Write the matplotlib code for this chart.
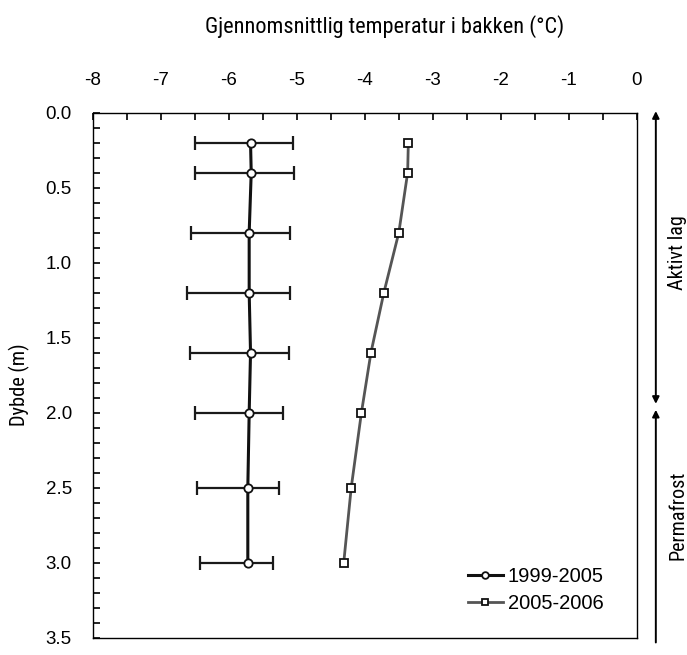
import matplotlib
matplotlib.use("Agg")
import matplotlib.pyplot as plt
from matplotlib.ticker import MultipleLocator, FormatStrFormatter
import numpy as np

depth = [0.2, 0.4, 0.8, 1.2, 1.6, 2.0, 2.5, 3.0]
temp_9905 = [-5.68, -5.67, -5.70, -5.70, -5.68, -5.70, -5.72, -5.72]
err_low = [-6.49, -6.50, -6.55, -6.61, -6.57, -6.50, -6.46, -6.43]
err_high = [-5.05, -5.04, -5.10, -5.10, -5.12, -5.20, -5.26, -5.35]
temp_0506 = [-3.36, -3.37, -3.50, -3.72, -3.91, -4.05, -4.20, -4.31]
active_layer_depth = 1.96

narrow = ['Roboto Condensed', 'DejaVu Sans']
plt.rcParams['font.family'] = ['Liberation Sans', 'DejaVu Sans']

fig = plt.figure(figsize=(6.87, 6.55), dpi=100)
ax = fig.add_axes([0.135, 0.026, 0.792, 0.802])

xerr = np.array([np.array(temp_9905) - np.array(err_low),
                 np.array(err_high) - np.array(temp_9905)])
ax.errorbar(temp_9905, depth, xerr=xerr, fmt='none', ecolor='#1a1a1a',
            elinewidth=1.6, capsize=5, capthick=1.6, zorder=2)
ax.plot(temp_9905, depth, '-o', color='#111111', lw=2.2, ms=6,
        mfc='white', mec='#111111', mew=1.3, label='1999-2005', zorder=3)
ax.plot(temp_0506, depth, '-s', color='#555555', lw=2.0, ms=5.3,
        mfc='white', mec='#111111', mew=1.3, label='2005-2006', zorder=3)

ax.set_xlim(-8, 0)
ax.set_ylim(3.5, 0)
ax.xaxis.set_ticks_position('top')
ax.xaxis.set_major_locator(MultipleLocator(1))
ax.xaxis.set_minor_locator(MultipleLocator(0.5))
ax.xaxis.set_major_formatter(FormatStrFormatter('%d'))
ax.yaxis.set_major_locator(MultipleLocator(0.5))
ax.yaxis.set_minor_locator(MultipleLocator(0.1))
ax.yaxis.set_major_formatter(FormatStrFormatter('%.1f'))
ax.tick_params(axis='x', which='both', direction='in', length=5, width=1.2,
               pad=17, labelsize=13.5, top=True, bottom=False,
               labeltop=True, labelbottom=False)
ax.tick_params(axis='y', which='both', direction='in', length=5, width=1.2,
               pad=15, labelsize=13.5, left=True, right=False)
for s in ax.spines.values():
    s.set_linewidth(1.0)

fig.text(0.56, 0.960, 'Gjennomsnittlig temperatur i bakken (\u00b0C)',
         ha='center', va='center', fontsize=16, family=narrow)
fig.text(0.029, 0.412, 'Dybde (m)', rotation=90, ha='center', va='center',
         fontsize=14.7, family=narrow)

leg = ax.legend(loc='upper left', bbox_to_anchor=(0.689, 0.135), frameon=False,
                fontsize=14.5, handlelength=1.75, handletextpad=0.25,
                labelspacing=0.4, borderpad=0, borderaxespad=0, markerscale=0.8)

# Right-hand annotation arrows
xa = 0.279
ax.annotate('', xy=(xa, -0.01), xytext=(xa, active_layer_depth - 0.02),
            xycoords='data', textcoords='data', annotation_clip=False,
            arrowprops=dict(arrowstyle='<|-|>', color='black', lw=1.4,
                            mutation_scale=10, shrinkA=0, shrinkB=0))
ax.annotate('', xy=(xa, active_layer_depth + 0.02), xytext=(xa, 3.53),
            xycoords='data', textcoords='data', annotation_clip=False,
            arrowprops=dict(arrowstyle='-|>', color='black', lw=1.4,
                            mutation_scale=10, shrinkA=0, shrinkB=0))
ax.text(0.60, 0.93, 'Aktivt lag', rotation=90, ha='center', va='center',
        fontsize=14.5, family=narrow, clip_on=False)
ax.text(0.60, 2.68, 'Permafrost', rotation=90, ha='center', va='center',
        fontsize=14.5, family=narrow, clip_on=False)

fig.savefig('out.png', dpi=100)
